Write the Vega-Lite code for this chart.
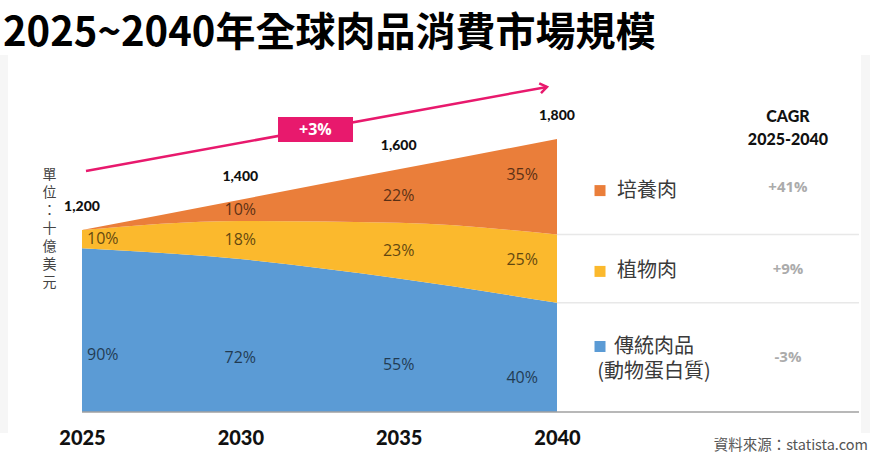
{
  "$schema": "https://vega.github.io/schema/vega-lite/v6.json",
  "width": 870,
  "height": 357,
  "autosize": {"type": "none"},
  "padding": {"left": 0, "right": 0, "top": 55, "bottom": 43},
  "background": "#ffffff",
  "view": {"stroke": null},
  "title": {
    "text": "2025~2040年全球肉品消費市場規模",
    "anchor": "start",
    "frame": "group",
    "font": "Noto Sans CJK TC",
    "fontSize": 40,
    "fontWeight": "bold",
    "color": "#000000",
    "offset": 1,
    "dx": 3
  },
  "datasets": {
    "meat": [
      {"year": 2025, "category": "傳統肉品", "value": 1080, "share": 0.90, "order": 1},
      {"year": 2025, "category": "植物肉", "value": 120, "share": 0.10, "order": 2},
      {"year": 2025, "category": "培養肉", "value": 0, "share": 0, "order": 3},
      {"year": 2030, "category": "傳統肉品", "value": 1008, "share": 0.72, "order": 1},
      {"year": 2030, "category": "植物肉", "value": 252, "share": 0.18, "order": 2},
      {"year": 2030, "category": "培養肉", "value": 140, "share": 0.10, "order": 3},
      {"year": 2035, "category": "傳統肉品", "value": 880, "share": 0.55, "order": 1},
      {"year": 2035, "category": "植物肉", "value": 368, "share": 0.23, "order": 2},
      {"year": 2035, "category": "培養肉", "value": 352, "share": 0.22, "order": 3},
      {"year": 2040, "category": "傳統肉品", "value": 720, "share": 0.40, "order": 1},
      {"year": 2040, "category": "植物肉", "value": 450, "share": 0.25, "order": 2},
      {"year": 2040, "category": "培養肉", "value": 630, "share": 0.35, "order": 3}
    ],
    "totals": [
      {"year": 2025, "total": 1200},
      {"year": 2030, "total": 1400},
      {"year": 2035, "total": 1600},
      {"year": 2040, "total": 1800}
    ],
    "legend": [
      {"category": "培養肉", "label": "培養肉", "cagr": "+41%"},
      {"category": "植物肉", "label": "植物肉", "cagr": "+9%"},
      {"category": "傳統肉品", "label": "傳統肉品\n(動物蛋白質)", "cagr": "-3%"}
    ]
  },
  "layer": [
    {
      "data": {"values": [{"side": "left"}]},
      "mark": {"type": "rect", "color": "#f6f6f6"},
      "encoding": {
        "x": {
          "datum": 2022.4106,
          "type": "quantitative",
          "scale": {"domain": [2022.4106, 2049.884], "nice": false, "zero": false},
          "axis": {
            "values": [2025, 2030, 2035, 2040], "format": "d", "title": null,
            "labelFont": "Lato", "labelFontSize": 20, "labelFontWeight": 900, "labelColor": "#111111",
            "labelPadding": 16, "ticks": false, "domain": false, "grid": false, "zindex": 2
          }
        },
        "x2": {"datum": 2022.663},
        "y": {
          "datum": 2353.8,
          "type": "quantitative",
          "scale": {"domain": [0, 2353.8], "nice": false, "zero": false},
          "axis": {
            "title": ["單", "位", "：", "十", "億", "美", "元"],
            "titleAngle": 0, "titleX": 49, "titleY": 112, "titleAlign": "center", "titleBaseline": "top",
            "titleLineHeight": 18, "titleFontSize": 14, "titleFontWeight": "normal",
            "titleFont": "Noto Sans CJK TC", "titleColor": "#444444",
            "labels": false, "ticks": false, "domain": false, "grid": false, "zindex": 2
          }
        },
        "y2": {"datum": -138}
      }
    },
    {
      "data": {"values": [{"side": "right"}]},
      "mark": {"type": "rect", "color": "#f6f6f6"},
      "encoding": {
        "x": {"datum": 2049.6},
        "x2": {"datum": 2049.884},
        "y": {"datum": 2353.8},
        "y2": {"datum": -138}
      }
    },
    {
      "data": {"name": "meat"},
      "transform": [
        {"stack": "value", "groupby": ["year"], "sort": [{"field": "order", "order": "ascending"}], "as": ["v0", "v1"]}
      ],
      "mark": {"type": "area", "interpolate": "monotone"},
      "encoding": {
        "x": {"field": "year", "type": "quantitative"},
        "y": {"field": "v1", "type": "quantitative"},
        "y2": {"field": "v0"},
        "color": {
          "field": "category", "type": "nominal",
          "scale": {"domain": ["傳統肉品", "植物肉", "培養肉"], "range": ["#5B9BD5", "#FBB92D", "#EA7E3A"]},
          "legend": null
        }
      }
    },
    {
      "data": {"values": [{}]},
      "mark": {"type": "rule", "color": "#a0a0a0", "strokeWidth": 1.5},
      "encoding": {
        "x": {"datum": 2025},
        "x2": {"datum": 2049.536},
        "y": {"datum": 0}
      }
    },
    {
      "data": {"name": "meat"},
      "transform": [
        {"stack": "value", "groupby": ["year"], "sort": [{"field": "order", "order": "ascending"}], "as": ["v0", "v1"]},
        {"filter": "datum.year === 2040 && datum.category !== '培養肉'"}
      ],
      "mark": {"type": "rule", "color": "#e8e8e8", "strokeWidth": 1.5},
      "encoding": {
        "x": {"datum": 2040},
        "x2": {"datum": 2049.536},
        "y": {"field": "v1", "type": "quantitative"}
      }
    },
    {
      "data": {"name": "meat"},
      "transform": [
        {"stack": "value", "groupby": ["year"], "sort": [{"field": "order", "order": "ascending"}], "as": ["v0", "v1"]},
        {"calculate": "datum.category === '傳統肉品' ? datum.v0 + 0.35 * (datum.v1 - datum.v0) : (datum.v0 + datum.v1) / 2", "as": "mid"},
        {"filter": "datum.share > 0 && datum.year === 2025"}
      ],
      "mark": {"type": "text", "align": "left", "baseline": "middle", "dx": 5, "font": "Open Sans", "fontSize": 16, "color": "#000000", "opacity": 0.62},
      "encoding": {
        "x": {"field": "year", "type": "quantitative"},
        "y": {"field": "mid", "type": "quantitative"},
        "text": {"field": "share", "type": "quantitative", "format": ".0%"}
      }
    },
    {
      "data": {"name": "meat"},
      "transform": [
        {"stack": "value", "groupby": ["year"], "sort": [{"field": "order", "order": "ascending"}], "as": ["v0", "v1"]},
        {"calculate": "datum.category === '傳統肉品' ? datum.v0 + 0.35 * (datum.v1 - datum.v0) : (datum.v0 + datum.v1) / 2", "as": "mid"},
        {"filter": "datum.share > 0 && (datum.year === 2030 || datum.year === 2035)"}
      ],
      "mark": {"type": "text", "align": "center", "baseline": "middle", "font": "Open Sans", "fontSize": 16, "color": "#000000", "opacity": 0.62},
      "encoding": {
        "x": {"field": "year", "type": "quantitative"},
        "y": {"field": "mid", "type": "quantitative"},
        "text": {"field": "share", "type": "quantitative", "format": ".0%"}
      }
    },
    {
      "data": {"name": "meat"},
      "transform": [
        {"stack": "value", "groupby": ["year"], "sort": [{"field": "order", "order": "ascending"}], "as": ["v0", "v1"]},
        {"calculate": "datum.category === '傳統肉品' ? datum.v0 + 0.31 * (datum.v1 - datum.v0) : (datum.v0 + datum.v1) / 2 + 0.12 * (datum.v1 - datum.v0)", "as": "mid"},
        {"filter": "datum.share > 0 && datum.year === 2040"}
      ],
      "mark": {"type": "text", "align": "right", "baseline": "middle", "dx": -19, "font": "Open Sans", "fontSize": 16, "color": "#000000", "opacity": 0.62},
      "encoding": {
        "x": {"field": "year", "type": "quantitative"},
        "y": {"field": "mid", "type": "quantitative"},
        "text": {"field": "share", "type": "quantitative", "format": ".0%"}
      }
    },
    {
      "data": {"name": "totals"},
      "mark": {"type": "text", "align": "center", "baseline": "middle", "dy": -23, "font": "Lato", "fontSize": 14, "fontWeight": 900, "color": "#111111"},
      "encoding": {
        "x": {"field": "year", "type": "quantitative"},
        "y": {"field": "total", "type": "quantitative"},
        "text": {"field": "total", "type": "quantitative", "format": ","}
      }
    },
    {
      "data": {"values": [{}]},
      "mark": {"type": "rule", "color": "#E8196D", "strokeWidth": 2.5},
      "encoding": {
        "x": {"datum": 2025.126},
        "y": {"datum": 1589},
        "x2": {"datum": 2039.684},
        "y2": {"datum": 2143}
      }
    },
    {
      "data": {"values": [{}]},
      "mark": {"type": "point", "shape": "M-1.4,-1L0,0L-1.4,1", "filled": false, "stroke": "#E8196D", "strokeWidth": 2.5, "size": 100, "angle": 349.7, "opacity": 1},
      "encoding": {
        "x": {"datum": 2039.684},
        "y": {"datum": 2143}
      }
    },
    {
      "data": {"values": [{}]},
      "mark": {"type": "rect", "color": "#E8196D"},
      "encoding": {
        "x": {"datum": 2031.19},
        "x2": {"datum": 2033.558},
        "y": {"datum": 1945},
        "y2": {"datum": 1780}
      }
    },
    {
      "data": {"values": [{"t": "+3%"}]},
      "mark": {"type": "text", "align": "center", "baseline": "middle", "font": "Open Sans", "fontSize": 16, "fontWeight": "bold", "color": "#ffffff"},
      "encoding": {
        "x": {"datum": 2032.37},
        "y": {"datum": 1859},
        "text": {"field": "t"}
      }
    },
    {
      "data": {"name": "meat"},
      "transform": [
        {"stack": "value", "groupby": ["year"], "sort": [{"field": "order", "order": "ascending"}], "as": ["v0", "v1"]},
        {"filter": "datum.year === 2040"},
        {"calculate": "datum.category === '傳統肉品' ? datum.v0 + 0.6 * (datum.v1 - datum.v0) : (datum.v0 + datum.v1) / 2 - 0.04 * (datum.v1 - datum.v0)", "as": "sq"}
      ],
      "mark": {"type": "point", "shape": "square", "filled": true, "size": 121, "opacity": 1},
      "encoding": {
        "x": {"datum": 2041.358},
        "y": {"field": "sq", "type": "quantitative"},
        "color": {"field": "category", "type": "nominal"}
      }
    },
    {
      "data": {"name": "meat"},
      "transform": [
        {"stack": "value", "groupby": ["year"], "sort": [{"field": "order", "order": "ascending"}], "as": ["v0", "v1"]},
        {"filter": "datum.year === 2040 && datum.category !== '傳統肉品'"},
        {"lookup": "category", "from": {"data": {"name": "legend"}, "key": "category", "fields": ["label"]}},
        {"calculate": "(datum.v0 + datum.v1) / 2 - 0.04 * (datum.v1 - datum.v0)", "as": "mid"}
      ],
      "mark": {"type": "text", "align": "left", "baseline": "middle", "font": "Noto Sans CJK TC", "fontSize": 20, "color": "#3a3a3a"},
      "encoding": {
        "x": {"datum": 2041.894},
        "y": {"field": "mid", "type": "quantitative"},
        "text": {"field": "label"}
      }
    },
    {
      "data": {"name": "meat"},
      "transform": [
        {"stack": "value", "groupby": ["year"], "sort": [{"field": "order", "order": "ascending"}], "as": ["v0", "v1"]},
        {"filter": "datum.year === 2040 && datum.category === '傳統肉品'"},
        {"lookup": "category", "from": {"data": {"name": "legend"}, "key": "category", "fields": ["label"]}},
        {"calculate": "(datum.v0 + datum.v1) / 2 + 0.092 * (datum.v1 - datum.v0)", "as": "mid"}
      ],
      "mark": {"type": "text", "align": "center", "baseline": "middle", "lineBreak": "\n", "lineHeight": 25, "font": "Noto Sans CJK TC", "fontSize": 20, "color": "#3a3a3a"},
      "encoding": {
        "x": {"datum": 2043.063},
        "y": {"field": "mid", "type": "quantitative"},
        "text": {"field": "label"}
      }
    },
    {
      "data": {"name": "meat"},
      "transform": [
        {"stack": "value", "groupby": ["year"], "sort": [{"field": "order", "order": "ascending"}], "as": ["v0", "v1"]},
        {"filter": "datum.year === 2040"},
        {"lookup": "category", "from": {"data": {"name": "legend"}, "key": "category", "fields": ["cagr"]}},
        {"calculate": "(datum.v0 + datum.v1) / 2", "as": "mid"}
      ],
      "mark": {"type": "text", "align": "center", "baseline": "middle", "font": "Open Sans", "fontSize": 15, "fontWeight": "bold", "color": "#ababab"},
      "encoding": {
        "x": {"datum": 2047.294},
        "y": {"field": "mid", "type": "quantitative"},
        "text": {"field": "cagr"}
      }
    },
    {
      "data": {"values": [{"t": "CAGR\n2025-2040"}]},
      "mark": {"type": "text", "align": "center", "baseline": "middle", "lineBreak": "\n", "lineHeight": 23, "font": "Lato", "fontSize": 16, "fontWeight": 900, "color": "#111111"},
      "encoding": {
        "x": {"datum": 2047.294},
        "y": {"datum": 1945},
        "text": {"field": "t"}
      }
    },
    {
      "data": {"values": [{"t": "資料來源：statista.com"}]},
      "mark": {"type": "text", "align": "right", "baseline": "middle", "font": "Noto Sans CJK TC", "fontSize": 14.5, "color": "#555555"},
      "encoding": {
        "x": {"datum": 2049.82},
        "y": {"datum": -222},
        "text": {"field": "t"}
      }
    }
  ]
}
